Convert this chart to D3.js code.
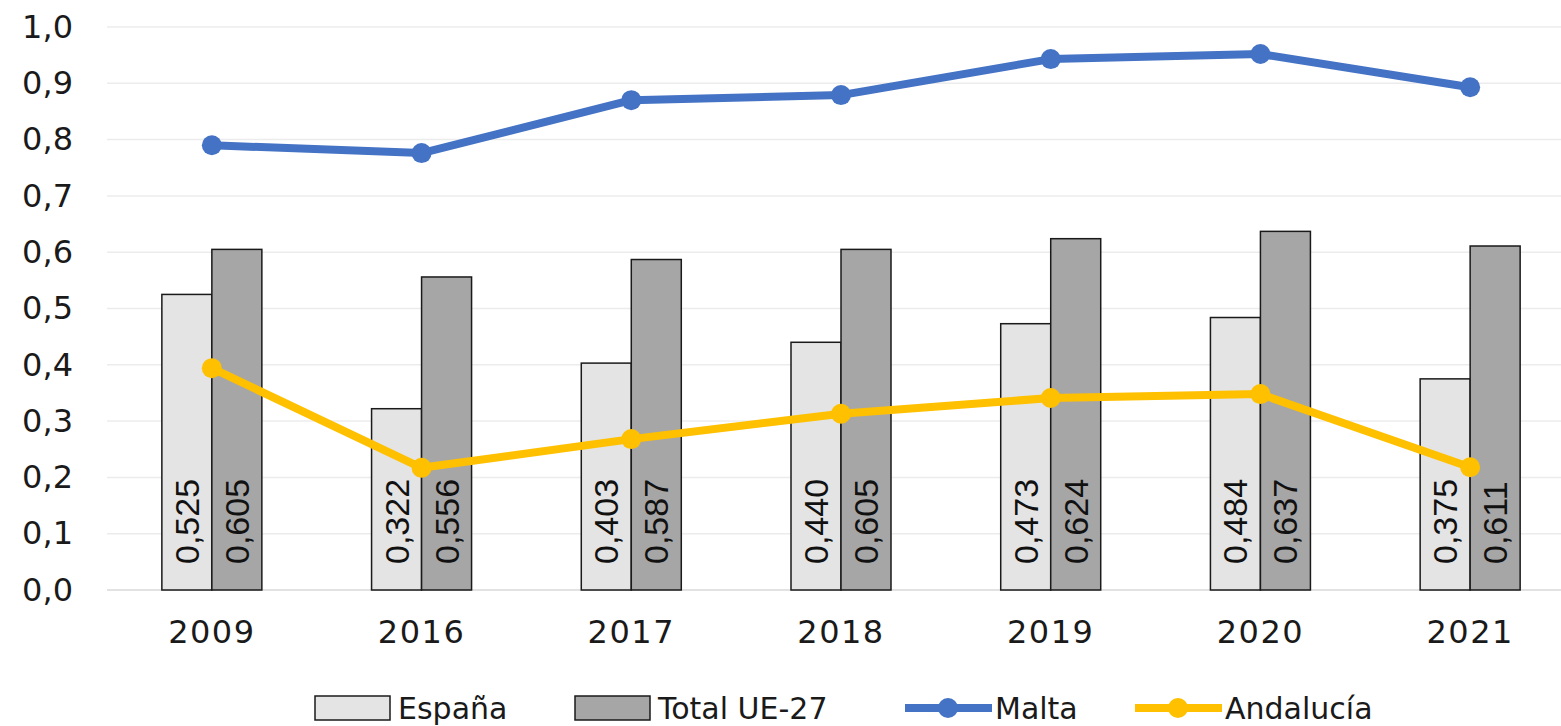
<!DOCTYPE html>
<html>
<head>
<meta charset="utf-8">
<script src="https://cdn.jsdelivr.net/npm/d3@7"></script>
<style>
  body { margin: 0; background: #fff; }
  svg { display: block; font-family: "DejaVu Sans", sans-serif; }
</style>
</head>
<body>
<svg id="chart" width="1561" height="726"></svg>
<script>
// Data
const years = ["2009", "2016", "2017", "2018", "2019", "2020", "2021"];
const espana = [0.525, 0.322, 0.403, 0.440, 0.473, 0.484, 0.375];
const totalUE = [0.605, 0.556, 0.587, 0.605, 0.624, 0.637, 0.611];
const malta = [0.790, 0.776, 0.870, 0.879, 0.943, 0.952, 0.893];
const andalucia = [0.394, 0.217, 0.268, 0.313, 0.341, 0.348, 0.218];
const yTicks = [0, 0.1, 0.2, 0.3, 0.4, 0.5, 0.6, 0.7, 0.8, 0.9, 1.0];

const svg = d3.select("#chart");
const width = 1561;
const margin = { top: 27, bottom: 136, left: 107 };
const height = 726;

const fmt = v => d3.format(".3f")(v).replace(".", ",");
const fmt1 = v => d3.format(".1f")(v).replace(".", ",");

// Scales
const x0 = d3.scaleBand()
  .domain(years)
  .range([margin.left, 1575])
  .padding(0);

const bw = x0.bandwidth();
const x1 = d3.scaleBand()
  .domain(["es", "ue"])
  .range([bw / 2 - 50, bw / 2 + 50]);

const y = d3.scaleLinear()
  .domain([0, 1])
  .range([height - margin.bottom, margin.top]);

// Grid lines
svg.append("g")
  .selectAll("line")
  .data(yTicks)
  .enter().append("line")
  .attr("x1", margin.left)
  .attr("x2", width)
  .attr("y1", d => y(d))
  .attr("y2", d => y(d))
  .attr("stroke", d => d === 0 ? "#d9d9d9" : "#ececec")
  .attr("stroke-width", 1.5);

// Y axis labels
const yAxis = svg.append("g")
  .attr("transform", `translate(73,0)`)
  .call(d3.axisLeft(y).tickValues(yTicks).tickFormat(fmt1).tickSize(0).tickPadding(0));
yAxis.select(".domain").remove();
yAxis.selectAll("text")
  .attr("font-size", 32)
  .attr("fill", "#1a1a1a")
  .attr("font-family", "DejaVu Sans, sans-serif");

// X axis labels
const xAxis = svg.append("g")
  .attr("transform", `translate(0,${y(0)})`)
  .call(d3.axisBottom(x0).tickSize(0).tickPadding(30));
xAxis.select(".domain").remove();
xAxis.selectAll("text")
  .attr("font-size", 32)
  .attr("letter-spacing", 1.5)
  .attr("fill", "#1a1a1a")
  .attr("font-family", "DejaVu Sans, sans-serif");

// Bars
const barData = years.map((yr, i) => [
  { year: yr, key: "es", value: espana[i] },
  { year: yr, key: "ue", value: totalUE[i] }
]).flat();

const fills = { es: "#e4e4e4", ue: "#a6a6a6" };

svg.append("g")
  .selectAll("rect")
  .data(barData)
  .enter().append("rect")
  .attr("x", d => x0(d.year) + x1(d.key))
  .attr("y", d => y(d.value))
  .attr("width", x1.bandwidth())
  .attr("height", d => y(0) - y(d.value))
  .attr("fill", d => fills[d.key])
  .attr("stroke", "#1a1a1a")
  .attr("stroke-width", 1.5);

// Lines
const cx = d => x0(d) + bw / 2;
const lineGen = d3.line()
  .x((d, i) => cx(years[i]))
  .y(d => y(d));

[[malta, "#4472c4"], [andalucia, "#ffc000"]].forEach(([vals, col]) => {
  svg.append("path")
    .datum(vals)
    .attr("d", lineGen)
    .attr("fill", "none")
    .attr("stroke", col)
    .attr("stroke-width", 8)
    .attr("stroke-linejoin", "round");
  svg.append("g")
    .selectAll("circle")
    .data(vals)
    .enter().append("circle")
    .attr("cx", (d, i) => cx(years[i]))
    .attr("cy", d => y(d))
    .attr("r", 10)
    .attr("fill", col);
});

// Bar value labels (rotated)
svg.append("g")
  .selectAll("text")
  .data(barData)
  .enter().append("text")
  .attr("transform", d => `translate(${x0(d.year) + x1(d.key) + x1.bandwidth() / 2},${y(0) - 26}) rotate(-90)`)
  .attr("dominant-baseline", "central")
  .attr("font-family", "Liberation Sans, Arial, sans-serif")
  .attr("font-size", 34)
  .attr("fill", "#111")
  .text(d => fmt(d.value));

// Legend
const legend = svg.append("g");
const legendItems = [
  { label: "España", type: "rect", color: fills.es, x: 315 },
  { label: "Total UE-27", type: "rect", color: fills.ue, x: 575 },
  { label: "Malta", type: "line", color: "#4472c4", x: 905 },
  { label: "Andalucía", type: "line", color: "#ffc000", x: 1135 }
];
legendItems.forEach(it => {
  const g = legend.append("g").attr("transform", `translate(${it.x},708)`);
  if (it.type === "rect") {
    g.append("rect")
      .attr("x", 0).attr("y", -12)
      .attr("width", 75).attr("height", 24)
      .attr("fill", it.color)
      .attr("stroke", "#1a1a1a")
      .attr("stroke-width", 1.5);
  } else {
    g.append("line")
      .attr("x1", 0).attr("x2", 87)
      .attr("y1", 0).attr("y2", 0)
      .attr("stroke", it.color)
      .attr("stroke-width", 8);
    g.append("circle")
      .attr("cx", 43).attr("cy", 0).attr("r", 10)
      .attr("fill", it.color);
  }
  g.append("text")
    .attr("x", it.type === "rect" ? 83 : 90)
    .attr("y", 0)
    .attr("dominant-baseline", "central")
    .attr("font-size", 30)
    .attr("fill", "#1a1a1a")
    .text(it.label);
});
</script>
</body>
</html>
